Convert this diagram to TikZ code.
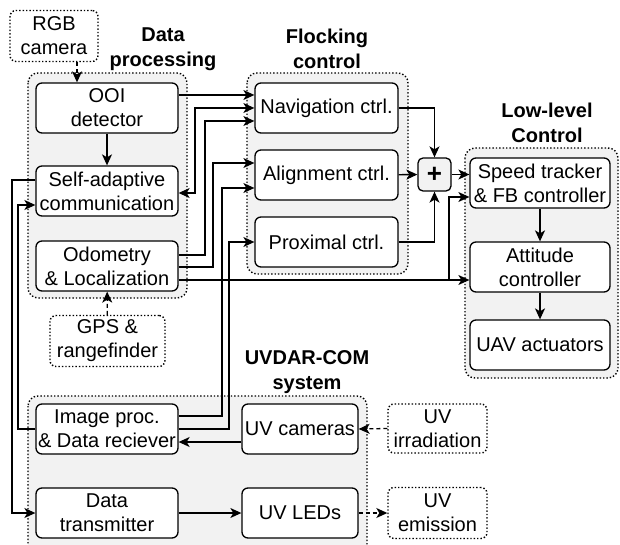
\documentclass[tikz,border=0pt]{standalone}
\usepackage{fontspec}
\setmainfont{Liberation Sans}
\usetikzlibrary{arrows.meta}
\begin{document}
\begin{tikzpicture}[x=1pt,y=-1pt,
  every node/.style={font=\fontsize{20}{24}\selectfont, align=center, inner sep=1pt},
  blk/.style={draw, fill=white, rounded corners=6pt, line width=1.3pt, minimum width=142pt, minimum height=50pt},
  ext/.style={draw, fill=white, rounded corners=6pt, line width=1.4pt, dotted, minimum height=51pt},
  grp/.style={draw, fill=black!5, rounded corners=10pt, line width=1.4pt, dotted},
  glabel/.style={font=\fontsize{20}{25}\selectfont\bfseries},
  arr/.style={line width=1.3pt, -{Stealth[length=11pt,width=10pt,inset=3pt]}},
  darr/.style={line width=1.3pt, {Stealth[length=11pt,width=10pt,inset=3pt]}-{Stealth[length=11pt,width=10pt,inset=3pt]}},
  dsh/.style={dash pattern=on 4pt off 3pt}
]
\useasboundingbox (0,0) rectangle (620,545);
% groups
\draw[grp] (28,73) rectangle (187,298);
\draw[grp] (247,73) rectangle (408,274);
\draw[grp] (465,148) rectangle (618,378);
\draw[grp] (28,396) rectangle (367,560);
% group labels
\node[glabel] (lbdp) at (163,49) {Data\\processing};
\node[glabel] (lbfc) at (327,49) {Flocking\\control};
\node[glabel] (lbll) at (547,123) {Low-level\\Control};
\node[glabel] (lbuv) at (307,372) {UVDAR-COM\\system};
% nodes
\node[ext, minimum width=88pt] (rgb) at (54,36) {RGB\\camera};
\node[blk] (ooi) at (107,108) {OOI\\detector};
\node[blk] (sac) at (107,191) {Self-adaptive\\communication};
\node[blk] (odo) at (107,266) {Odometry\\\& Localization};
\node[ext, minimum width=115pt] (gps) at (107.5,341) {GPS \&\\rangefinder};
\node[blk, minimum width=143pt] (nav) at (326.5,108) {Navigation ctrl.};
\node[blk, minimum width=143pt] (ali) at (326.5,175) {Alignment ctrl.};
\node[blk, minimum width=143pt] (pro) at (326.5,242) {Proximal ctrl.};
\node[draw, fill=black!5, rounded corners=5pt, line width=1.3pt, minimum width=33pt, minimum height=33pt, font=\fontsize{26}{26}\selectfont\bfseries] (plus) at (434.5,174.5) {+};
\node[blk, minimum width=140pt] (spd) at (540,183) {Speed tracker\\\& FB controller};
\node[blk, minimum width=140pt] (att) at (540,267) {Attitude\\controller};
\node[blk, minimum width=140pt] (uav) at (540,345) {UAV actuators};
\node[blk] (img) at (107,429) {Image proc.\\\& Data reciever};
\node[blk, minimum width=116pt] (uvc) at (300,429) {UV cameras};
\node[ext, minimum width=99pt, minimum height=49pt] (uvi) at (437.5,428.5) {UV\\irradiation};
\node[blk] (dtx) at (107,513) {Data\\transmitter};
\node[blk, minimum width=116pt] (led) at (300,513) {UV LEDs};
\node[ext, minimum width=99pt] (uve) at (437.5,513) {UV\\emission};
\coordinate (br) at (449,280);
% connectors
\draw[arr, dsh] (rgb.south -| 77,0) -- (ooi.north -| 77,0);
\draw[arr] (ooi) -- (sac);
\draw[arr] (ooi.east |- 0,95) -- (nav.west |- 0,95);
\draw[darr] (sac.east |- 0,193) -| (195,108) -- (nav.west |- 0,108);
\draw[arr] (odo.east |- 0,255) -| (205,121) -- (nav.west |- 0,121);
\draw[arr] (odo.east |- 0,267) -| (213,163) -- (ali.west |- 0,163);
\draw[arr] (odo.east |- 0,280) -- (att.west |- 0,280);
\draw[arr] (img.east |- 0,416) -| (222,188) -- (ali.west |- 0,188);
\draw[arr] (img.east |- 0,429) -| (229,242) -- (pro.west);
\draw[arr] (sac.west |- 0,180) -| (12,513) -- (dtx.west |- 0,513);
\draw[arr] (img.west |- 0,429) -| (18,205) -- (sac.west |- 0,205);
\draw[arr] (uvc.west |- 0,442) -- (img.east |- 0,442);
\draw[arr, dsh] (uvi.west) -- (uvc.east);
\draw[arr] (dtx) -- (led);
\draw[arr, dsh] (led) -- (uve);
\draw[arr, dsh] (gps) -- (odo);
\draw[arr] (nav.east) -| (plus.north);
\draw[arr] (ali) -- (plus);
\draw[arr] (pro.east) -| (plus.south);
\draw[arr] (plus.east) -- (spd.west |- plus.east);
\draw[arr] (br) |- (spd.west |- 0,197);
\draw[arr] (spd) -- (att);
\draw[arr] (att) -- (uav);
\end{tikzpicture}
\end{document}
